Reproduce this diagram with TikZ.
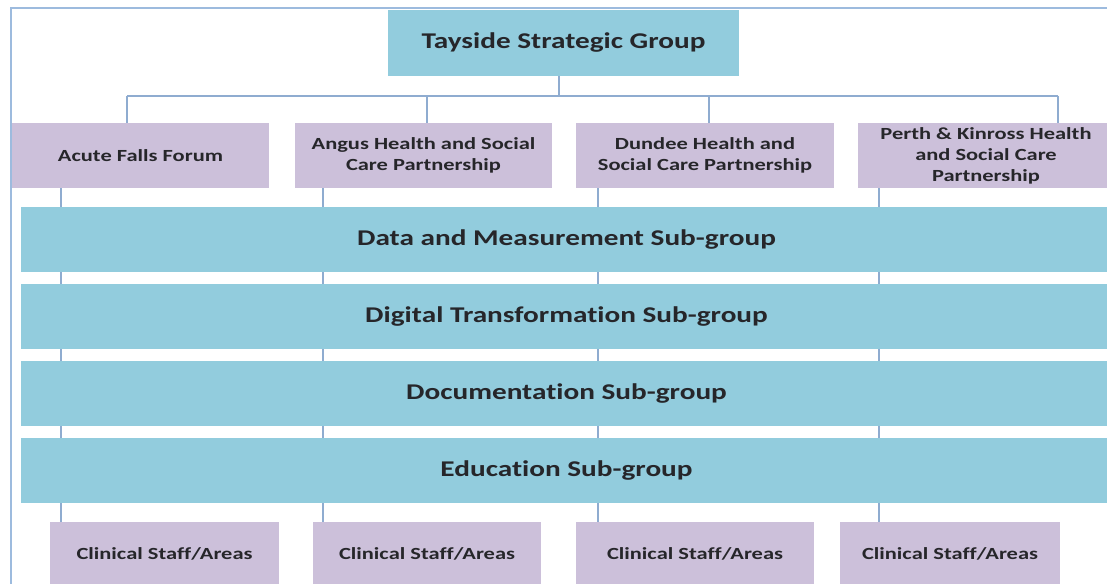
\documentclass[tikz,border=0pt]{standalone}
\usepackage{fontspec}
\setmainfont{Carlito}
\newfontfamily\widefont[FakeStretch=1.3,Ligatures=NoCommon]{Carlito}
\newfontfamily\widerfont[FakeStretch=1.32,Ligatures=NoCommon]{Carlito}
\usepackage{tikz}
\usetikzlibrary{backgrounds}

\definecolor{tealfill}{RGB}{146,204,221}
\definecolor{lilacfill}{RGB}{204,192,218}
\definecolor{linkblue}{RGB}{143,172,208}
\definecolor{framblue}{RGB}{157,187,222}
\definecolor{inkgrey}{RGB}{38,38,42}

\tikzset{
  box/.style={rectangle, inner sep=0pt, text=inkgrey, align=center},
  topbox/.style={box, fill=tealfill, font=\widefont\bfseries\fontsize{22.5}{27}\selectfont},
  partbox/.style={box, fill=lilacfill, minimum height=65pt, font=\widerfont\bfseries\fontsize{17}{21}\selectfont},
  subbar/.style={box, fill=tealfill, minimum width=1091pt, minimum height=65pt, font=\widefont\bfseries\fontsize{22.5}{27}\selectfont},
  staffbox/.style={box, fill=lilacfill, minimum height=64pt, font=\widerfont\bfseries\fontsize{17}{21}\selectfont},
  link/.style={draw=linkblue, line width=1.6pt},
  frame/.style={draw=framblue, line width=2.6pt}
}

\begin{document}
\begin{tikzpicture}[x=1pt,y=-1pt]
  \useasboundingbox (0,0) rectangle (1107,583);

  % Draw the outer frame
  \draw[frame] (11,600) |- (1120,8);

  % Draw the top group
  \node[topbox, minimum width=351pt, minimum height=66pt] (top) at (563.5,43) {Tayside Strategic Group};

  % Draw the partner boxes
  \node[partbox, minimum width=257pt] (acute) at (140.5,155.5) {Acute Falls Forum};
  \node[partbox, minimum width=257pt] (angus) at (423.5,155.5) {Angus Health and Social\\Care Partnership};
  \node[partbox, minimum width=258pt] (dundee) at (705,155.5) {Dundee Health and\\Social Care Partnership};
  \node[partbox, minimum width=256pt] (perth) at (986,155.5) {Perth \& Kinross Health\\and Social Care\\Partnership};

  % Draw the sub-group bars
  \node[subbar] (data) at (566.5,239.5) {Data and Measurement Sub-group};
  \node[subbar] (digital) at (566.5,316.5) {Digital Transformation Sub-group};
  \node[subbar] (docs) at (566.5,393.5) {Documentation Sub-group};
  \node[subbar] (edu) at (566.5,470.5) {Education Sub-group};

  % Draw the clinical staff boxes
  \node[staffbox, minimum width=229pt] (staffa) at (164.5,554) {Clinical Staff/Areas};
  \node[staffbox, minimum width=228pt] (staffb) at (427,554) {Clinical Staff/Areas};
  \node[staffbox, minimum width=238pt] (staffc) at (695,554) {Clinical Staff/Areas};
  \node[staffbox, minimum width=220pt] (staffd) at (950,554) {Clinical Staff/Areas};

  % Draw the bus from the top group to the partners
  \coordinate (b1) at (127,96);
  \coordinate (b2) at (427,96);
  \coordinate (b3) at (709,96);
  \coordinate (b4) at (1058,96);
  \draw[link] (top.south -| 559,0) -- (559,96);
  \draw[link] (b1) -- (b4);
  \draw[link] (b1) -- (b1 |- acute.north);
  \draw[link] (b2) -- (b2 |- angus.north);
  \draw[link] (b3) -- (b3 |- dundee.north);
  \draw[link] (b4) -- (b4 |- perth.north);

  % Draw the columns down through the bars
  \begin{scope}[on background layer]
    \foreach \col/\up/\down in {61/acute/staffa, 323/angus/staffb, 598/dundee/staffc, 879/perth/staffd}
      \draw[link] (\col,0 |- \up.south) -- (\col,0 |- \down.north);
  \end{scope}
\end{tikzpicture}
\end{document}
